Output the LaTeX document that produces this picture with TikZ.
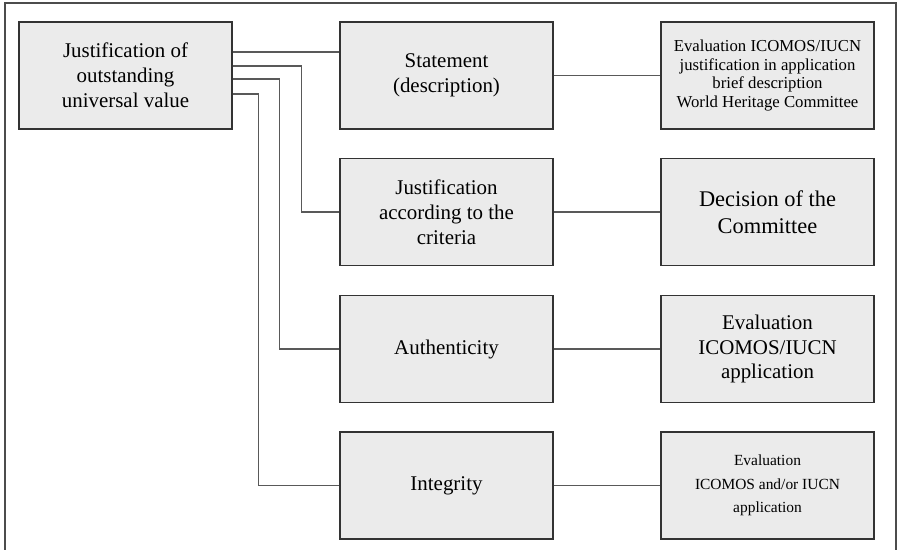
\documentclass[tikz,border=0pt]{standalone}
\usepackage{fontspec}
\setmainfont{Liberation Serif}
\usepackage{tikz}
\usetikzlibrary{calc,positioning}

\begin{document}
\begin{tikzpicture}[box/.style={draw=black!80, fill=black!8, line width=1.2bp,
		minimum width=213bp, minimum height=107bp, inner sep=0pt, align=center,
		font=\fontsize{21}{25}\selectfont},
	small/.style={font=\fontsize{16.8}{18.5}\selectfont},
	link/.style={draw=black!65, line width=1.3bp}]
	\useasboundingbox (0bp,0bp) rectangle (902bp,-550bp);
	\draw [draw=black!70, line width=2bp] (5bp,-550bp) -- (5bp,-3bp) -- (896bp,-3bp) -- (896bp,-550bp);

	\node (just)  at (125.5bp,-75.5bp)  [box]  {Justification of\\outstanding\\universal value};
	\node (stmt)  at (446.5bp,-75.5bp)  [box]  {Statement\\(description)};
	\node (crit)  at (446.5bp,-212bp)   [box]  {Justification\\according to the\\criteria};
	\node (auth)  at (446.5bp,-349bp)   [box]  {Authenticity};
	\node (integ) at (446.5bp,-485.5bp) [box]  {Integrity};
	\node (eval1) at (767.5bp,-75.5bp)  [box,small] {Evaluation ICOMOS/IUCN\\justification in application\\brief description\\World Heritage Committee};
	\node (decis) at (767.5bp,-212bp)   [box,font=\fontsize{22.5}{27}\selectfont] {Decision of the\\Committee};
	\node (eval2) at (767.5bp,-349bp)   [box]  {Evaluation\\ICOMOS/IUCN\\application};
	\node (eval3) at (767.5bp,-485.5bp) [box,font=\fontsize{15.5}{23.5}\selectfont] {Evaluation\\ICOMOS and/or IUCN\\application};

	\draw [link]  ([yshift=23.5bp]just.east) -- ([yshift=23.5bp]stmt.west);
	\draw [link]  ([yshift=9.5bp]just.east) -- ++(69bp,0) |- (crit.west);
	\draw [link]  ([yshift=-3.5bp]just.east) -- ++(47bp,0) |- (auth.west);
	\draw [link]  ([yshift=-18.5bp]just.east) -- ++(26bp,0) |- (integ.west);
	\draw [link]  (stmt) -- (eval1);
	\draw [link]  (crit) -- (decis);
	\draw [link]  (auth) -- (eval2);
	\draw [link]  (integ) -- (eval3);
\end{tikzpicture}
\end{document}
